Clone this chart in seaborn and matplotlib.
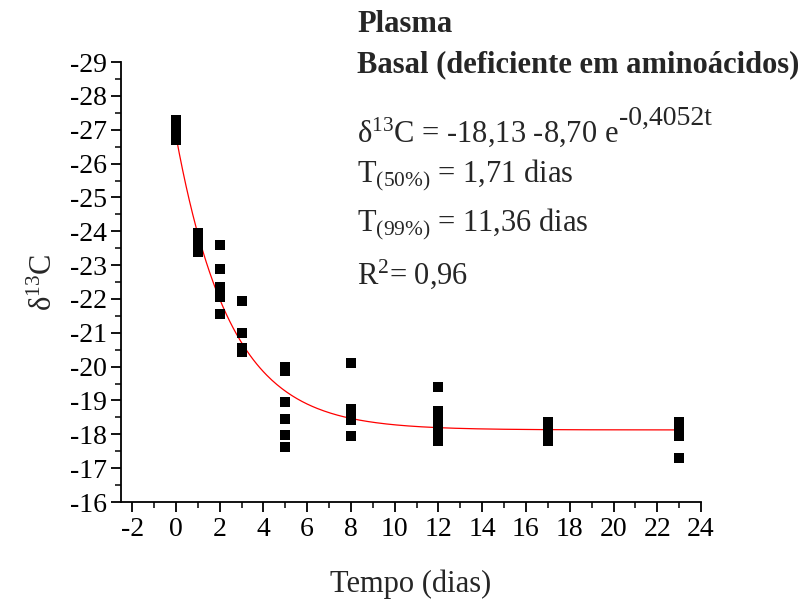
import numpy as np
import pandas as pd
import seaborn as sns
import matplotlib.pyplot as plt
from matplotlib.ticker import MultipleLocator

# Tempo (dias) -> valores de delta13C
t00 = [-27.3, -27.15, -27.0, -26.85, -26.7]
t01 = [-23.95, -23.8, -23.65, -23.5, -23.4]
t02 = [-23.6, -22.9, -22.35, -22.2, -22.05, -21.55]
t03 = [-21.95, -21.0, -20.55, -20.43]
t05 = [-19.98, -19.88, -18.95, -18.45, -17.97, -17.62]
t08 = [-20.1, -18.75, -18.6, -18.42, -17.94]
t12 = [-19.4, -18.7, -18.55, -18.3, -18.1, -17.95, -17.8]
t17 = [-18.35, -18.2, -18.05, -17.9, -17.8]
t23 = [-18.35, -18.2, -18.05, -17.95, -17.29]

tempos = [0, 1, 2, 3, 5, 8, 12, 17, 23]
grupos = [t00, t01, t02, t03, t05, t08, t12, t17, t23]

# parametros do ajuste exponencial
a, b, k = -18.13, -8.70, 0.4052

df = pd.DataFrame({
    "tempo": [t for t, g in zip(tempos, grupos) for _ in g],
    "d13c": [v for g in grupos for v in g],
})
t_fit = np.linspace(0, 23, 300)
fit = pd.DataFrame({"tempo": t_fit, "d13c": a + b * np.exp(-k * t_fit)})

sns.set_style("ticks")
plt.rcParams["font.family"] = ["Liberation Serif", "DejaVu Serif"]
plt.rcParams["mathtext.fontset"] = "custom"
plt.rcParams["mathtext.rm"] = "Liberation Serif"
plt.rcParams["mathtext.it"] = "Liberation Serif:italic"
plt.rcParams["axes.unicode_minus"] = False

fig = plt.figure(figsize=(8.08, 6.01), dpi=100)
ax = fig.add_axes([0.15, 0.1647, 0.7176, 0.732])

sns.lineplot(data=fit, x="tempo", y="d13c", color="red", linewidth=0.9, ax=ax)
sns.scatterplot(data=df, x="tempo", y="d13c", marker="s", s=60, color="black",
                linewidth=0, ax=ax, zorder=3)

ax.set_xlim(-2.5, 24)
ax.set_ylim(-16, -29)
ax.xaxis.set_major_locator(MultipleLocator(2))
ax.xaxis.set_minor_locator(MultipleLocator(1))
ax.yaxis.set_major_locator(MultipleLocator(1))
ax.yaxis.set_minor_locator(MultipleLocator(0.5))
ax.tick_params(which="major", length=7, width=1.3, labelsize=20, colors="black")
ax.tick_params(which="minor", length=4, width=1.3)
for s in ["left", "bottom"]:
    ax.spines[s].set_linewidth(1.3)
    ax.spines[s].set_color("black")
sns.despine(ax=ax)

ax.set_xlabel("Tempo (dias)", fontsize=22, labelpad=20)
ax.set_ylabel("δ$^{\\mathrm{13}}$C", fontsize=22, labelpad=8)

fs = 22
tx = 357 / 808
fig.text(tx, 1 - 25 / 601, "Plasma", fontsize=fs, fontweight="bold", va="center")
fig.text(tx, 1 - 65 / 601, "Basal (deficiente em aminoácidos)", fontsize=fs,
         fontweight="bold", va="center")
eq = fig.text(tx, 1 - 132 / 601, "δ$^{\\mathrm{13}}$C = -18,13 -8,70 e",
              fontsize=fs, va="center")
fig.text(tx, 1 - 175 / 601, "T$_{\\text{(50%)}}$ = 1,71 dias", fontsize=fs, va="center")
fig.text(tx, 1 - 224 / 601, "T$_{\\text{(99%)}}$ = 11,36 dias", fontsize=fs, va="center")
fig.text(tx, 1 - 274 / 601, "R$^{\\mathrm{2}}$= 0,96", fontsize=fs, va="center")

# expoente da equacao, em tamanho quase normal
fig.canvas.draw()
bb = eq.get_window_extent()
fig.text(bb.x1 / fig.bbox.width + 0.001, 1 - 118 / 601, "-0,4052t",
         fontsize=20, va="center")

fig.savefig("out.png", dpi=100)
